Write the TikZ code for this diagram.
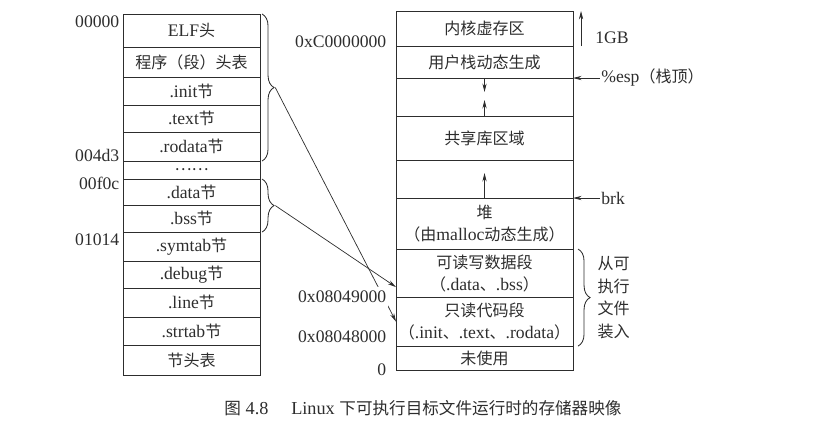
\documentclass[tikz,border=0pt]{standalone}
\usepackage{fontspec}
\setmainfont{Liberation Serif}[Scale=1.1]
\newfontfamily\cjk{Noto Sans CJK SC}
\newcommand\zh[1]{{\cjk #1}}
\usetikzlibrary{arrows.meta, positioning, decorations.pathreplacing}
\definecolor{ink}{RGB}{45,45,45}

\begin{document}
\begin{tikzpicture}[
  x=0.025cm, y=-0.025cm,
  font=\fontsize{11.4}{15.6}\selectfont, text=ink,
  seg/.style={rectangle, draw=ink, line width=0.6pt, outer sep=0pt, inner sep=0pt,
    minimum width=#1, align=center},
  lseg/.style={seg=3.425cm},
  rseg/.style={seg=4.425cm},
  addr/.style={anchor=east, inner sep=1pt},
  arrow/.style={-{Stealth[length=6pt, width=3pt]}, line width=0.5pt, draw=ink},
  brace/.style={decorate, decoration={brace, amplitude=0.3cm}, line width=0.6pt, draw=ink}
]
\useasboundingbox (0,0) rectangle (834,431);

% ELF file (left)
\node[lseg, minimum height=0.825cm, anchor=north west] (elf) at (123,14) {ELF\zh{头}};
\node[lseg, minimum height=0.75cm, below=0pt of elf] (phdr) {\zh{程序（段）头表}};
\node[lseg, minimum height=0.7cm, below=0pt of phdr] (init) {.init\zh{节}};
\node[lseg, minimum height=0.675cm, below=0pt of init] (text) {.text\zh{节}};
\node[lseg, minimum height=0.725cm, below=0pt of text] (rodata) {.rodata\zh{节}};
\node[lseg, minimum height=0.45cm, below=0pt of rodata] (dots) {\zh{……}};
\node[lseg, minimum height=0.65cm, below=0pt of dots] (data) {.data\zh{节}};
\node[lseg, minimum height=0.675cm, below=0pt of data] (bss) {.bss\zh{节}};
\node[lseg, minimum height=0.725cm, below=0pt of bss] (symtab) {.symtab\zh{节}};
\node[lseg, minimum height=0.675cm, below=0pt of symtab] (debug) {.debug\zh{节}};
\node[lseg, minimum height=0.725cm, below=0pt of debug] (line) {.line\zh{节}};
\node[lseg, minimum height=0.7cm, below=0pt of line] (strtab) {.strtab\zh{节}};
\node[lseg, minimum height=0.75cm, below=0pt of strtab] (shdr) {\zh{节头表}};

\node[addr] (o0) at ([xshift=-0.05cm, yshift=-0.2cm]elf.north west) {00000};
\node[addr] (o1) at ([xshift=-0.05cm, yshift=0.15cm]rodata.south west) {004d3};
\node[addr] (o2) at ([xshift=-0.05cm, yshift=-0.1cm]data.north west) {00f0c};
\node[addr] (o3) at ([xshift=-0.05cm, yshift=-0.2cm]bss.south west) {01014};

% memory image (right)
\node[rseg, minimum height=0.875cm, anchor=north west] (kern) at (396,11) {\zh{内核虚存区}};
\node[rseg, minimum height=0.8cm, below=0pt of kern] (ustack) {\zh{用户栈动态生成}};
\node[rseg, minimum height=0.95cm, below=0pt of ustack] (gapa) {};
\node[rseg, minimum height=1.1cm, below=0pt of gapa] (shlib) {\zh{共享库区域}};
\node[rseg, minimum height=0.95cm, below=0pt of shlib] (gapb) {};
\node[rseg, minimum height=1.275cm, below=0pt of gapb] (heap) {\zh{堆}\\\zh{（由}malloc\zh{动态生成）}};
\node[rseg, minimum height=1.2cm, below=0pt of heap] (rw) {\zh{可读写数据段}\\\zh{（}.data\zh{、}.bss\zh{）}};
\node[rseg, minimum height=1.225cm, below=0pt of rw] (code) {\zh{只读代码段}\\\zh{（}.init\zh{、}.text\zh{、}.rodata\zh{）}};
\node[rseg, minimum height=0.6cm, below=0pt of code] (unused) {\zh{未使用}};

\draw[arrow] (ustack.south) -- ++(0,14);
\draw[arrow] (shlib.north) -- ++(0,-16);
\draw[arrow] (heap.north) -- ++(0,-25);

% pointers on the right
\draw[arrow] ([xshift=0.2cm]kern.south east) -- ([xshift=0.2cm]kern.north east);
\node[anchor=west, inner sep=0pt] (gb) at ([xshift=0.55cm, yshift=0.2cm]kern.south east) {1GB};
\node[anchor=west, inner sep=0pt] (esp) at ([xshift=0.7cm]ustack.south east) {\%esp\zh{（栈顶）}};
\draw[arrow] ([xshift=-1pt]esp.west) -- (ustack.south east);
\node[anchor=west, inner sep=0pt] (brk) at ([xshift=0.7cm]heap.north east) {brk};
\draw[arrow] ([xshift=-1pt]brk.west) -- (heap.north east);

\draw[brace] ([xshift=0.125cm]rw.north east) -- ([xshift=0.125cm]code.south east)
  coordinate[midway, xshift=0.33cm] (tipC);
\node[anchor=west, align=left, inner sep=0pt, font=\cjk\fontsize{11.4}{16.1}\selectfont]
  (load) at ([xshift=0.15cm]tipC) {从可\\执行\\文件\\装入};

% braces and mapping arrows
\draw[brace] ([xshift=0.05cm]elf.north east) -- ([xshift=0.05cm]rodata.south east)
  coordinate[midway, xshift=0.33cm] (tipA);
\draw[brace] ([xshift=0.05cm]data.north east) -- ([xshift=0.05cm]bss.south east)
  coordinate[midway, xshift=0.33cm] (tipB);
\draw[arrow] (tipA) -- (code.west);
\draw[arrow] (tipB) -- ([yshift=0.25cm]rw.south west);

\node[addr] (v0) at ([xshift=-0.2cm, yshift=0.1cm]kern.south west) {0xC0000000};
\node[addr, fill=white, inner ysep=3pt] (v1) at ([xshift=-0.2cm]code.north west) {0x08049000};
\node[addr] (v2) at ([xshift=-0.2cm, yshift=0.225cm]code.south west) {0x08048000};
\node[addr] (v3) at ([xshift=-0.2cm]unused.south west) {0};

\node[font=\fontsize{11.8}{14}\selectfont] (cap) at (423,408)
  {\zh{图} 4.8\quad\ Linux \zh{下可执行目标文件运行时的存储器映像}};
\end{tikzpicture}
\end{document}
